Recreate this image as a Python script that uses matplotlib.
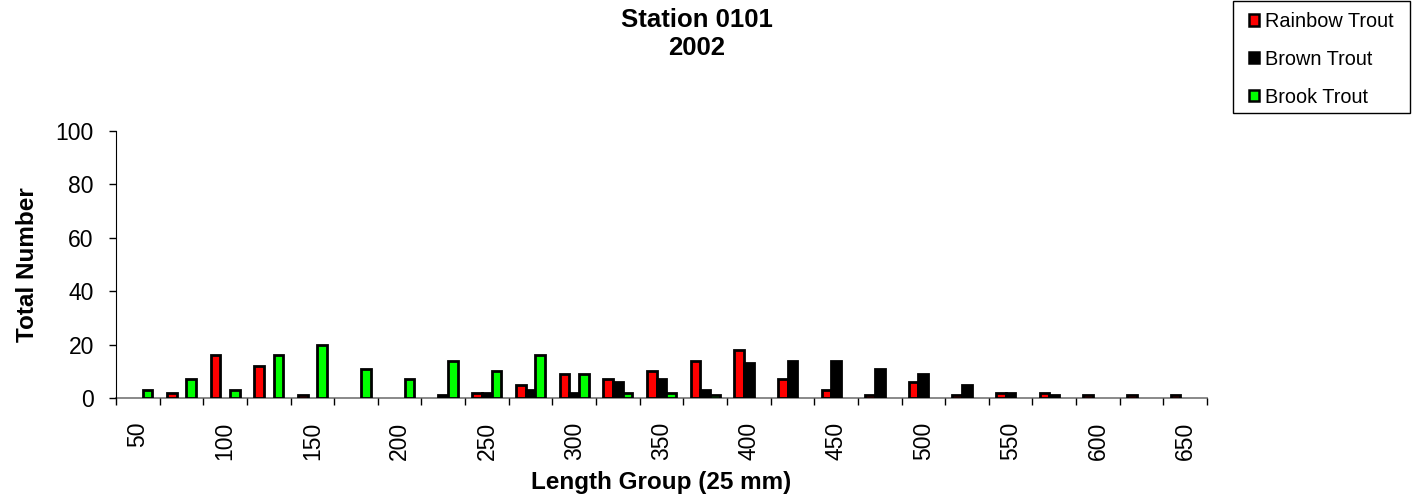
import numpy as np
import matplotlib
matplotlib.use('Agg')
import matplotlib.pyplot as plt
from matplotlib.patches import Patch, Rectangle

plt.rcParams['font.family'] = ['Liberation Sans', 'DejaVu Sans']

# length groups (25 mm) and counts per species
groups = [50, 75, 100, 125, 150, 175, 200, 225, 250, 275, 300, 325, 350,
          375, 400, 425, 450, 475, 500, 525, 550, 575, 600, 625, 650]
rainbow = [0, 2, 16, 12, 1, 0, 0, 0, 2, 5, 9, 7, 10, 14, 18, 7, 3, 1, 6, 1, 2, 2, 1, 1, 1]
brown = [0, 0, 0, 0, 0, 0, 0, 1, 2, 3, 2, 6, 7, 3, 13, 14, 14, 11, 9, 5, 2, 1, 0, 0, 0]
brook = [3, 7, 3, 16, 20, 11, 7, 14, 10, 16, 9, 2, 2, 1, 0, 0, 0, 0, 0, 0, 0, 0, 0, 0, 0]

series = ['Rainbow Trout', 'Brown Trout', 'Brook Trout']
colors = ['#FF0000', '#000000', '#00FF00']

W, H = 1416, 495
fig = plt.figure(figsize=(W / 100, H / 100), dpi=100)
ax = fig.add_axes([116 / W, 1 - 398 / H, (1207 - 116) / W, (398 - 131) / H])

x = np.arange(len(groups))
w = 1 / 4.5
for k, (vals, c) in enumerate(zip([rainbow, brown, brook], colors)):
    vals = np.array(vals)
    nz = vals > 0   # zero counts are not drawn
    ax.bar(x[nz] + (k - 1) * w, vals[nz], width=w, color=c,
           edgecolor='black', linewidth=2.0)

ax.set_xlim(-0.5, len(groups) - 0.5)
ax.set_ylim(0, 100)
ax.set_yticks(np.arange(0, 101, 20))
ax.tick_params(axis='y', direction='out', length=5, width=1, labelsize=16.5, pad=11)

ax.set_xticks(x[::2])
ax.set_xticklabels([str(g) for g in groups[::2]], rotation=90, fontsize=16.5)
ax.set_xticks(np.arange(-0.5, len(groups), 1), minor=True)
ax.tick_params(axis='x', which='major', length=0, pad=17)
ax.tick_params(axis='x', which='minor', length=5, width=1, color='black')

for s in ['top', 'right']:
    ax.spines[s].set_visible(False)
ax.spines['left'].set_color('black')
ax.spines['bottom'].set_color('#808080')
ax.spines['bottom'].set_linewidth(1.3)
ax.spines['bottom'].set_zorder(0.5)

ax.set_ylabel('Total Number', fontsize=17.5, fontweight='bold', labelpad=12)
ax.set_xlabel('Length Group (25 mm)', fontsize=17.5, fontweight='bold', labelpad=8)

fig.text(697 / W, 1 - 8 / H, 'Station 0101\n2002', ha='center', va='top',
         fontsize=18.5, fontweight='bold', linespacing=1.2)

# legend box
fig.patches.append(Rectangle((1233 / W, 1 - 113 / H), (1410 - 1233) / W, 112 / H,
                             transform=fig.transFigure, fill=False,
                             edgecolor='black', linewidth=1))
handles = [Patch(facecolor=c, edgecolor='black', linewidth=1.8) for c in colors]
fig.legend(handles, series, loc='upper left', bbox_to_anchor=(1238 / W, 1 - 1 / H),
           frameon=False, fontsize=14.3, handlelength=0.5, handleheight=0.5,
           handletextpad=0.3, labelspacing=0.95, borderpad=0.05)

fig.savefig('out.png', dpi=100)
